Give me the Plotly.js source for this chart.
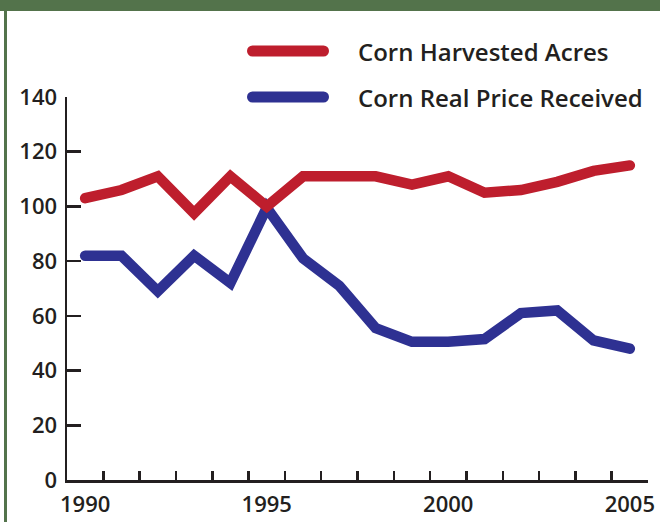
<!DOCTYPE html>
<html>
<head>
<meta charset="utf-8">
<script src="https://cdn.plot.ly/plotly-3.0.1.min.js"></script>
<style>
  html, body { margin: 0; padding: 0; background: #ffffff; }
  #wrap { position: relative; width: 660px; height: 522px; overflow: hidden; }
  #chart { position: absolute; left: 0; top: 0; width: 660px; height: 522px; }
  #topbar { position: absolute; left: 0; top: 0; width: 660px; height: 11px; background: #53734b; z-index: 5; }
  #leftbar { position: absolute; left: 4px; top: 0; width: 3px; height: 522px; background: #53734b; z-index: 5; }
  .js-line { stroke-linecap: round; }
  .shapelayer path { stroke-linecap: round; }
</style>
</head>
<body>
<div id="wrap">
  <div id="chart"></div>
  <div id="topbar"></div>
  <div id="leftbar"></div>
</div>
<script>
const years = [1990,1991,1992,1993,1994,1995,1996,1997,1998,1999,2000,2001,2002,2003,2004,2005];
const harvestedAcres = [103,106,111,97.5,111,100,111,111,111,108,111,105,106,109,113,115];
const realPrice = [82,82,69,82,72,99.5,81,71,55.5,50.5,50.5,51.5,61,62,51,48];
const seriesNames = ["Corn Harvested Acres", "Corn Real Price Received"];
const seriesColors = ["#be1e2d", "#2e3192"];
const yTicks = [0,20,40,60,80,100,120,140];
const xLabelYears = [1990,1995,2000,2005];
const xTickMarks = years.map(y => y + 0.5);

const textColor = "#231f20";
const fontFam = "'Open Sans', 'Noto Sans', sans-serif";

const traces = [
  { x: years, y: realPrice, name: seriesNames[1], type: "scatter", mode: "lines",
    xaxis: "x", yaxis: "y",
    line: { color: seriesColors[1], width: 10.5 }, hoverinfo: "skip", showlegend: false },
  { x: years, y: harvestedAcres, name: seriesNames[0], type: "scatter", mode: "lines",
    xaxis: "x2", yaxis: "y",
    line: { color: seriesColors[0], width: 10.5 }, hoverinfo: "skip", showlegend: false }
];

const L = 67, R = 12, T = 97, B = 42;
const W = 660, H = 522;
const pw = W - L - R, ph = H - T - B;
const px = v => (v - L) / pw;
const py = v => (H - B - v) / ph;

const legendY = [51, 97];
const shapes = [];
const annotations = [];
for (let i = 0; i < 2; i++) {
  shapes.push({ type: "line", xref: "paper", yref: "paper",
    x0: px(252.5), x1: px(323.5), y0: py(legendY[i]), y1: py(legendY[i]),
    line: { color: seriesColors[i], width: 11 } });
  annotations.push({ xref: "paper", yref: "paper", x: px(356), y: py(legendY[i] + 0.5),
    xanchor: "left", yanchor: "middle", showarrow: false, text: seriesNames[i],
    font: { family: fontFam, size: 24, color: textColor, weight: 600 } });
}

const layout = {
  width: W, height: H,
  margin: { l: L, r: R, t: T, b: B, pad: 0 },
  paper_bgcolor: "#ffffff", plot_bgcolor: "#ffffff",
  showlegend: false,
  xaxis: {
    range: [1989.5, 2005.5], tickmode: "array", tickvals: xTickMarks,
    ticktext: xTickMarks.map(() => ""), ticks: "inside", ticklen: 9, tickwidth: 2.5,
    tickcolor: textColor, showline: true, linewidth: 2.5, linecolor: textColor,
    showgrid: false, zeroline: false, fixedrange: true
  },
  xaxis2: {
    overlaying: "x", anchor: "y", side: "bottom",
    range: [1989.5, 2005.5], tickmode: "array", tickvals: xLabelYears,
    ticktext: xLabelYears.map(String), ticks: "", showline: false,
    showgrid: false, zeroline: false, fixedrange: true, ticklabelstandoff: 9,
    tickfont: { family: fontFam, size: 22, color: textColor, weight: 600 }
  },
  yaxis: {
    range: [0, 140], tickmode: "array", tickvals: yTicks, ticktext: yTicks.map(String),
    ticks: "inside", ticklen: 14, tickwidth: 2.5, tickcolor: textColor,
    showline: true, linewidth: 2.5, linecolor: textColor,
    showgrid: false, zeroline: false, fixedrange: true, ticklabelstandoff: 3,
    tickfont: { family: fontFam, size: 22, color: textColor, weight: 600 }
  },
  shapes: shapes,
  annotations: annotations
};

Plotly.newPlot("chart", traces, layout, { staticPlot: true, displayModeBar: false });
</script>
</body>
</html>
